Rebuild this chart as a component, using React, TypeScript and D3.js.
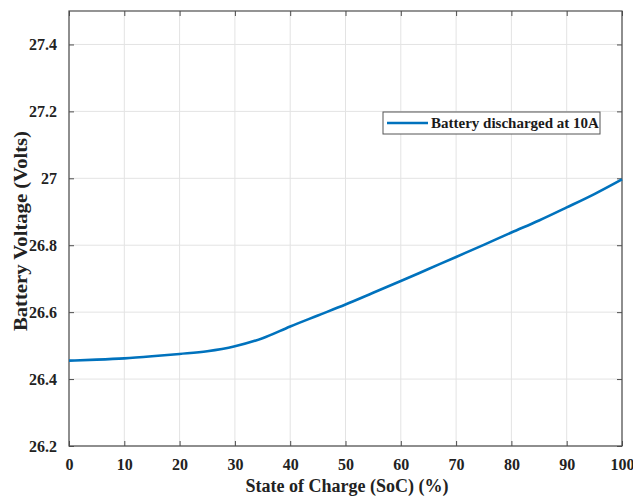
import React, { useEffect, useRef } from "react";
import * as d3 from "d3";

// state of charge (%) and battery voltage
const soc = [0, 5, 10, 15, 20, 25, 30, 35, 40, 45, 50, 55, 60, 65, 70, 75, 80, 85, 90, 95, 100];
const voltage = [
  26.455, 26.458, 26.462, 26.468, 26.475, 26.483, 26.498, 26.522, 26.557, 26.59, 26.623,
  26.658, 26.693, 26.729, 26.765, 26.801, 26.838, 26.874, 26.913, 26.953, 26.997,
];
const xTicks = [0, 10, 20, 30, 40, 50, 60, 70, 80, 90, 100];
const yTicks = [26.2, 26.4, 26.6, 26.8, 27, 27.2, 27.4];
const seriesName = "Battery discharged at 10A";

export default function App() {
  const ref = useRef<SVGSVGElement>(null);

  useEffect(() => {
    const svg = d3.select(ref.current);
    svg.selectAll("*").remove();

    const width = 633;
    const height = 500;
    const margin = { top: 11, left: 69, bottom: 54, right: 11 };
    const iwidth = width - margin.left - margin.right;
    const iheight = height - margin.top - margin.bottom;
    const font = "'Liberation Serif', 'Times New Roman', serif";
    const axisColor = "#4d4d4d";

    const x = d3.scaleLinear().domain([0, 100]).range([0, iwidth]);
    const y = d3.scaleLinear().domain([26.2, 27.5]).range([iheight, 0]);

    const g = svg.append("g").attr("transform", `translate(${margin.left},${margin.top})`);

    // grid
    g.append("g")
      .selectAll("line")
      .data(xTicks)
      .enter()
      .append("line")
      .attr("x1", d => x(d))
      .attr("x2", d => x(d))
      .attr("y1", 0)
      .attr("y2", iheight)
      .attr("stroke", "#e3e3e3")
      .attr("stroke-width", 1);
    g.append("g")
      .selectAll("line")
      .data(yTicks)
      .enter()
      .append("line")
      .attr("x1", 0)
      .attr("x2", iwidth)
      .attr("y1", d => y(d))
      .attr("y2", d => y(d))
      .attr("stroke", "#e3e3e3")
      .attr("stroke-width", 1);

    // axes (ticks pointing in, box on)
    const styleAxis = (sel: any, showLabels: boolean) => {
      sel.select(".domain").remove();
      sel.selectAll(".tick line").attr("stroke", axisColor);
      if (!showLabels) sel.selectAll(".tick text").remove();
      sel.selectAll(".tick text")
        .attr("fill", "#222")
        .style("font-family", font)
        .style("font-size", "16px")
        .style("font-weight", "bold");
    };

    g.append("g")
      .attr("transform", `translate(0,${iheight})`)
      .call(d3.axisBottom(x).tickValues(xTicks).tickSize(-5).tickPadding(13).tickFormat(d3.format("d")))
      .call((s: any) => styleAxis(s, true));
    g.append("g")
      .call(d3.axisTop(x).tickValues(xTicks).tickSize(-5))
      .call((s: any) => styleAxis(s, false));
    g.append("g")
      .call(d3.axisLeft(y).tickValues(yTicks).tickSize(-5).tickPadding(12).tickFormat((d: any) => String(+d.toFixed(1))))
      .call((s: any) => styleAxis(s, true));
    g.append("g")
      .attr("transform", `translate(${iwidth},0)`)
      .call(d3.axisRight(y).tickValues(yTicks).tickSize(-5))
      .call((s: any) => styleAxis(s, false));

    g.append("rect")
      .attr("width", iwidth)
      .attr("height", iheight)
      .attr("fill", "none")
      .attr("stroke", axisColor)
      .attr("stroke-width", 1.2);

    // curve
    const pts = soc.map((s, i) => [s, voltage[i]] as [number, number]);
    const line = d3.line<[number, number]>()
      .x(d => x(d[0]))
      .y(d => y(d[1]))
      .curve(d3.curveMonotoneX);
    g.append("path")
      .datum(pts)
      .attr("d", line)
      .attr("fill", "none")
      .attr("stroke", "#0072BD")
      .attr("stroke-width", 2.6);

    // legend
    const lg = svg.append("g").attr("transform", "translate(383,112)");
    lg.append("rect")
      .attr("width", 217)
      .attr("height", 22)
      .attr("fill", "white")
      .attr("stroke", "#555")
      .attr("stroke-width", 1);
    lg.append("line")
      .attr("x1", 4)
      .attr("x2", 45)
      .attr("y1", 11)
      .attr("y2", 11)
      .attr("stroke", "#0072BD")
      .attr("stroke-width", 2.6);
    lg.append("text")
      .attr("x", 48)
      .attr("y", 16)
      .attr("fill", "#1a1a1a")
      .style("font-family", font)
      .style("font-size", "15px")
      .style("font-weight", "bold")
      .text(seriesName);

    // axis titles
    svg.append("text")
      .attr("x", 347)
      .attr("y", 492)
      .attr("text-anchor", "middle")
      .attr("fill", "#222")
      .style("font-family", font)
      .style("font-size", "18px")
      .style("font-weight", "bold")
      .text("State of Charge (SoC) (%)");
    svg.append("text")
      .attr("transform", `translate(27,231) rotate(-90)`)
      .attr("text-anchor", "middle")
      .attr("textLength", 200)
      .attr("lengthAdjust", "spacingAndGlyphs")
      .attr("fill", "#222")
      .style("font-family", font)
      .style("font-size", "18px")
      .style("font-weight", "bold")
      .text("Battery Voltage (Volts)");
  }, []);

  return (
    <svg
      ref={ref}
      width={633}
      height={500}
      style={{ position: "absolute", left: 0, top: 0, background: "white" }}
    />
  );
}
